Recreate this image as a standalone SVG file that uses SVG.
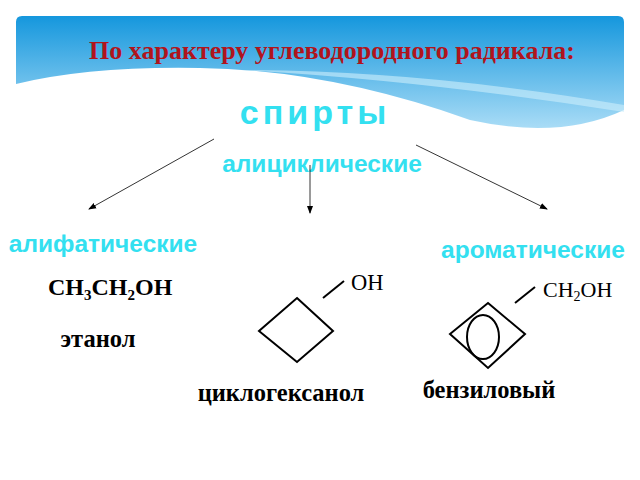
<svg xmlns="http://www.w3.org/2000/svg" width="640" height="480" viewBox="0 0 640 480">
<defs>
<linearGradient id="bg" x1="0" y1="0" x2="0" y2="1"><stop offset="0" stop-color="#1597dd"/><stop offset="1" stop-color="#a9dcf6"/></linearGradient>
<marker id="ah" markerWidth="8" markerHeight="8" refX="7" refY="4" orient="auto" markerUnits="userSpaceOnUse"><path d="M0,1 L8,4 L0,7 Z" fill="#000"/></marker>
</defs>
<style>
.cy{font-family:"Liberation Sans",Arial,sans-serif;font-weight:bold;fill:#33e0f0}
.f{font-family:"Liberation Serif","Times New Roman",serif;fill:#000}
.b{font-weight:bold}
.s{fill:none;stroke:#000;stroke-width:2}
.c{stroke:#000;stroke-width:0.8;fill:none}
</style>
<rect width="640" height="480" fill="#fff"/>
<path d="M16,22 Q16,16 22,16 L618,16 Q624,16 624,22 L624,110 Q560,140 470,120 Q330,70 200,68 Q90,66 16,84 Z" fill="url(#bg)"/>
<path d="M240,70 Q420,80 624,112 L624,105 Q420,70 240,70 Z" fill="#cdeefc" opacity="0.6"/>
<text x="332" y="59" text-anchor="middle" class="f b" font-size="26" style="fill:#b0141c">По характеру углеводородного радикала:</text>
<text x="315" y="124" text-anchor="middle" class="cy" font-size="34" letter-spacing="4">спирты</text>
<text x="322" y="172" text-anchor="middle" class="cy" font-size="24.5">алициклические</text>
<g id="connectors">
<line class="c" x1="214" y1="139" x2="89" y2="209" marker-end="url(#ah)"/>
<line class="c" x1="310" y1="165" x2="310" y2="213" marker-end="url(#ah)"/>
<line class="c" x1="416" y1="145" x2="547" y2="209" marker-end="url(#ah)"/>
</g>
<g id="aliphatic">
<text x="103" y="252" text-anchor="middle" class="cy" font-size="24.5">алифатические</text>
<text x="48" y="295" class="f b" font-size="24">CH<tspan font-size="15" dy="5">3</tspan><tspan dy="-5">CH</tspan><tspan font-size="15" dy="5">2</tspan><tspan dy="-5">OH</tspan></text>
<text x="98" y="347" text-anchor="middle" class="f b" font-size="24.5">этанол</text>
</g>
<g id="alicyclic">
<path class="s" d="M297,298 L333,331 L297,362 L259,331 Z"/>
<line class="s" x1="323" y1="298" x2="344" y2="281"/>
<text x="351" y="290" class="f" font-size="22.5">OH</text>
<text x="281" y="401" text-anchor="middle" class="f b" font-size="24.5">циклогексанол</text>
</g>
<g id="aromatic">
<text x="533" y="258" text-anchor="middle" class="cy" font-size="24.5">ароматические</text>
<path class="s" d="M488,303 L525,334 L488,368 L450,334 Z"/>
<ellipse class="s" cx="483" cy="337" rx="16" ry="22"/>
<line class="s" x1="515" y1="303" x2="535" y2="287"/>
<text x="543" y="297" class="f" font-size="22">CH<tspan font-size="14" dy="4">2</tspan><tspan dy="-4">OH</tspan></text>
<text x="489" y="398" text-anchor="middle" class="f b" font-size="24.5">бензиловый</text>
</g>
</svg>
